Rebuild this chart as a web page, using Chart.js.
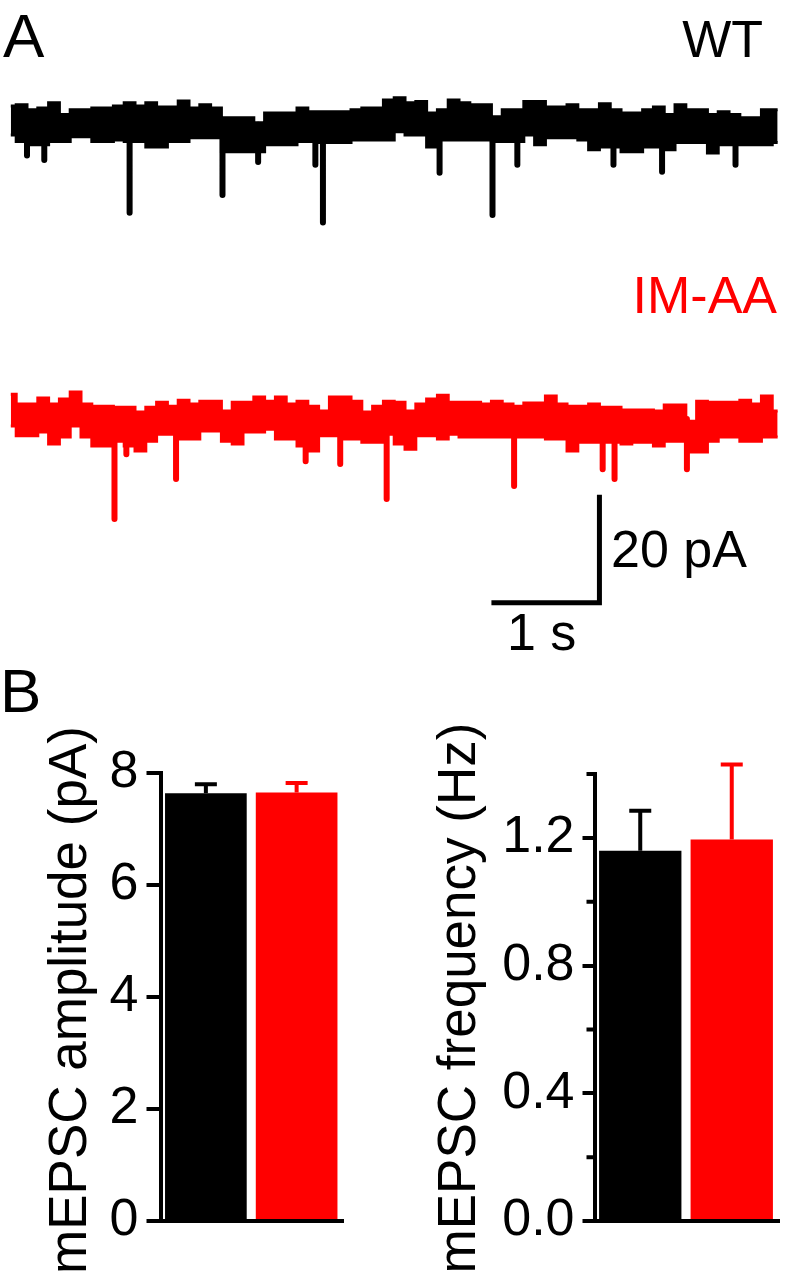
<!DOCTYPE html>
<html>
<head>
<meta charset="utf-8">
<script src="https://cdn.jsdelivr.net/npm/chart.js@4.4.0/dist/chart.umd.min.js"></script>
<style>
  html, body { margin: 0; padding: 0; background: #fff; }
  body { width: 792px; height: 1280px; position: relative; overflow: hidden; font-family: "Liberation Sans", Arial, sans-serif; }
  .lbl { position: absolute; line-height: 1; white-space: nowrap; color: #000; }
  .ytitle { transform: translate(-50%, -50%) rotate(-90deg); }
  canvas { position: absolute; }
</style>
</head>
<body>
<div class="lbl" style="left:3px; top:5px; font-size:62px;">A</div>
<div class="lbl" style="right:29px; top:13px; font-size:52px;">WT</div>
<div class="lbl" style="right:15px; top:269px; font-size:52px; color:#ff0000;">IM-AA</div>
<div class="lbl" style="left:611px; top:523px; font-size:52px;">20 pA</div>
<div class="lbl" style="left:507px; top:606px; font-size:52px;">1 s</div>
<div class="lbl" style="left:0px; top:660px; font-size:62px;">B</div>
<div class="lbl ytitle" style="left:67px; top:1000px; font-size:53px;">mEPSC amplitude (pA)</div>
<div class="lbl ytitle" style="left:456px; top:998px; font-size:53px;">mEPSC frequency (Hz)</div>

<canvas id="traceChart" width="792" height="594" style="left:0px; top:60px;"></canvas>
<canvas id="ampChart" width="360" height="560" style="left:0px; top:720px;"></canvas>
<canvas id="freqChart" width="412" height="560" style="left:380px; top:720px;"></canvas>

<script>
// panel A: sample times (s) and envelope of each trace (pA)
const traceTimes = [0.1, 0.2, 0.3, 0.4, 0.5, 0.6, 0.7, 0.8, 0.9, 1.0,
  1.1, 1.2, 1.3, 1.4, 1.5, 1.6, 1.7, 1.8, 1.9, 2.0,
  2.1, 2.2, 2.3, 2.4, 2.5, 2.6, 2.7, 2.8, 2.9, 3.0,
  3.1, 3.2, 3.3, 3.4, 3.5, 3.6, 3.7, 3.8, 3.9, 4.0,
  4.1, 4.2, 4.3, 4.4, 4.5, 4.6, 4.7, 4.8, 4.9, 5.0,
  5.1, 5.2, 5.3, 5.4, 5.5, 5.6, 5.7, 5.8, 5.9, 6.0,
  6.1, 6.2, 6.3, 6.4, 6.5, 6.6, 6.7, 6.8, 6.9, 7.0,
  7.1, 7.2];

const wtUpper = [3.5, 3.7, 2.8, 3.1, 4.1, 1.9, 2.8, 2.8, 3.1, 3.1,
  3.5, 4.1, 3.5, 4.1, 3.3, 3.3, 4.4, 3.1, 3.7, 3.1,
  1.3, 1.3, 1.3, 0.4, 2.2, 2.2, 2.2, 3.1, 2.4, 2.4,
  2.4, 2.4, 2.8, 3.1, 3.1, 4.6, 5.0, 4.1, 4.3, 2.2,
  2.8, 4.6, 4.1, 3.7, 3.7, 1.5, 2.8, 2.8, 4.3, 4.3,
  3.3, 3.3, 3.7, 2.8, 2.8, 3.9, 2.8, 2.2, 2.2, 2.8,
  3.3, 1.9, 3.7, 2.8, 2.8, 1.9, 2.4, 1.9, 1.3, 1.3,
  2.8, 2.8];
const wtLower = [-1.9, -3.1, -3.7, -3.7, -3.1, -3.1, -2.2, -2.2, -3.1, -3.1,
  -2.8, -3.1, -3.1, -4.1, -4.1, -3.1, -3.1, -2.4, -2.4, -2.4,
  -5.0, -5.0, -5.0, -5.0, -3.7, -3.7, -3.7, -3.1, -3.1, -3.3,
  -3.3, -3.3, -2.8, -2.8, -2.8, -2.8, -1.3, -1.9, -1.9, -4.1,
  -2.8, -2.8, -2.8, -2.8, -2.8, -3.1, -3.1, -3.1, -1.9, -3.7,
  -2.4, -2.4, -2.4, -2.8, -4.6, -4.1, -4.1, -5.0, -5.0, -4.1,
  -4.1, -4.6, -3.3, -3.3, -3.3, -5.2, -3.7, -3.7, -3.7, -3.7,
  -3.7, -3.3];
const wtEventTimes = [0.25, 0.41, 1.20, 2.06, 2.39, 2.92, 2.99, 4.07, 4.56, 4.79, 5.68, 6.13, 6.81];
const wtEventPeaks = [-5.7, -6.5, -16.3, -13.0, -6.9, -7.4, -18.1, -8.9, -16.7, -7.4, -7.4, -8.7, -7.4];

const imUpper = [4.6, 2.8, 2.8, 3.9, 2.8, 3.7, 5.0, 2.8, 2.4, 2.4,
  2.2, 2.2, 1.3, 2.2, 3.1, 2.4, 3.5, 2.8, 3.3, 3.3,
  1.5, 3.1, 3.1, 4.1, 3.3, 4.1, 2.8, 3.3, 2.4, 1.5,
  4.1, 4.1, 3.3, 1.3, 2.4, 3.3, 3.1, 1.5, 2.8, 3.7,
  4.4, 3.1, 3.1, 3.1, 2.8, 3.3, 2.8, 2.4, 3.0, 3.0,
  4.3, 2.8, 2.4, 2.4, 2.8, 2.2, 2.2, 1.7, 1.7, 1.7,
  1.5, 2.6, 2.6, -0.4, 3.3, 3.1, 3.1, 3.1, 3.5, 2.8,
  4.3, 1.5];
const imLower = [-1.3, -3.1, -3.1, -2.4, -4.6, -3.3, -1.3, -3.3, -5.0, -5.0,
  -4.1, -5.0, -5.9, -4.1, -2.8, -2.8, -3.7, -3.7, -2.2, -2.2,
  -4.1, -4.6, -2.4, -2.4, -1.9, -3.7, -3.7, -5.0, -5.9, -3.1,
  -3.1, -3.7, -3.7, -4.3, -4.3, -2.8, -4.6, -5.6, -3.1, -3.1,
  -3.7, -2.8, -3.3, -3.3, -3.3, -3.3, -3.3, -3.3, -3.3, -3.3,
  -3.7, -3.7, -5.9, -4.3, -4.3, -4.3, -4.3, -4.6, -4.3, -4.3,
  -5.0, -4.1, -4.1, -6.1, -6.1, -4.1, -3.3, -3.3, -4.1, -4.1,
  -3.3, -3.3];
const imEventTimes = [1.06, 1.17, 1.63, 2.83, 3.15, 3.58, 4.76, 5.58, 5.69, 6.36];
const imEventPeaks = [-18.5, -6.5, -11.1, -7.8, -8.3, -14.8, -12.4, -9.3, -11.1, -9.3];

// scale bar: 1 s and 20 pA
const scaleBarTimes = [4.55, 5.55, 5.55];
const scaleBarCurrents = [-34, -34, -14];

// panel B
const groups = ['WT', 'IM-AA'];
const ampMeans = [7.64, 7.65];
const ampErrors = [0.16, 0.17];
const ampTicks = [0, 2, 4, 6, 8];
const freqMeans = [1.16, 1.195];
const freqErrors = [0.125, 0.235];
const freqTicks = [0, 0.4, 0.8, 1.2];
const freqMinorTicks = [0.2, 0.6, 1.0, 1.4];

const groupColors = ['#000000', '#ff0000'];
const FONT = 'Liberation Sans';

function points(xs, ys) {
  return xs.map(function(x, i) { return {x: x, y: ys[i]}; });
}

// each event is a short vertical stroke from the baseline to its peak
function eventSegments(ts, peaks) {
  var out = [];
  ts.forEach(function(t, i) {
    out.push({x: t, y: 0}, {x: t, y: peaks[i]}, {x: t, y: null});
  });
  return out;
}

function band(upper, lower, color, axis) {
  return [
    {data: points(traceTimes, upper), yAxisID: axis, borderColor: color, borderWidth: 3, stepped: 'middle', fill: false},
    {data: points(traceTimes, lower), yAxisID: axis, borderColor: color, backgroundColor: color, borderWidth: 3, stepped: 'middle', fill: '-1'}
  ];
}

new Chart(document.getElementById('traceChart'), {
  type: 'line',
  data: {
    datasets: band(wtUpper, wtLower, '#000000', 'yWT').concat([
      {data: eventSegments(wtEventTimes, wtEventPeaks), yAxisID: 'yWT', borderColor: '#000000', borderWidth: 6, borderCapStyle: 'round', spanGaps: false}
    ], band(imUpper, imLower, '#ff0000', 'yIM'), [
      {data: eventSegments(imEventTimes, imEventPeaks), yAxisID: 'yIM', borderColor: '#ff0000', borderWidth: 6, borderCapStyle: 'round', spanGaps: false},
      {data: points(scaleBarTimes, scaleBarCurrents), yAxisID: 'yIM', borderColor: '#000000', borderWidth: 5, borderJoinStyle: 'miter'}
    ])
  },
  options: {
    responsive: false,
    animation: false,
    events: [],
    layout: {padding: 0},
    elements: {point: {radius: 0}, line: {tension: 0}},
    plugins: {legend: {display: false}, tooltip: {enabled: false}},
    scales: {
      x: {type: 'linear', min: 0, max: 7.333, display: false},
      yWT: {type: 'linear', min: -98, max: 12, display: false},
      yIM: {type: 'linear', min: -43.5, max: 66.5, display: false}
    }
  }
});

// upper error whisker with a cap
const errorBars = {
  id: 'errorBars',
  afterDatasetsDraw: function(chart) {
    var ctx = chart.ctx;
    var y = chart.scales.y;
    var ds = chart.data.datasets[0];
    chart.getDatasetMeta(0).data.forEach(function(bar, i) {
      var top = y.getPixelForValue(ds.data[i]);
      var cap = y.getPixelForValue(ds.data[i] + ds.errors[i]);
      ctx.save();
      ctx.strokeStyle = groupColors[i];
      ctx.lineWidth = 4;
      ctx.beginPath();
      ctx.moveTo(bar.x, top);
      ctx.lineTo(bar.x, cap);
      ctx.moveTo(bar.x - 11, cap);
      ctx.lineTo(bar.x + 11, cap);
      ctx.stroke();
      ctx.restore();
    });
  }
};

function minorTicks(values, len) {
  return {
    id: 'minorTicks',
    afterDraw: function(chart) {
      var ctx = chart.ctx;
      var y = chart.scales.y;
      var x0 = chart.chartArea.left;
      ctx.save();
      ctx.strokeStyle = '#000';
      ctx.lineWidth = 4;
      ctx.beginPath();
      values.forEach(function(v) {
        var py = y.getPixelForValue(v);
        ctx.moveTo(x0 - len, py);
        ctx.lineTo(x0, py);
      });
      ctx.stroke();
      ctx.restore();
    }
  };
}

function makeBarChart(id, means, errors, ticks, yMax, fmt, tickLen, axisWidth, pad, extra) {
  return new Chart(document.getElementById(id), {
    type: 'bar',
    data: {
      labels: groups,
      datasets: [{
        data: means,
        errors: errors,
        backgroundColor: groupColors,
        borderWidth: 0,
        barPercentage: 0.9,
        categoryPercentage: 1.0
      }]
    },
    options: {
      responsive: false,
      animation: false,
      events: [],
      layout: {padding: pad},
      plugins: {legend: {display: false}, tooltip: {enabled: false}},
      scales: {
        x: {
          grid: {display: false, drawTicks: false, lineWidth: 4},
          ticks: {display: false},
          border: {display: true, color: '#000', width: 4},
          afterFit: function(s) { s.height = 4; }
        },
        y: {
          min: 0,
          max: yMax,
          afterBuildTicks: function(s) { s.ticks = ticks.map(function(v) { return {value: v}; }); },
          ticks: {color: '#000', font: {family: FONT, size: 52}, padding: 8, callback: fmt},
          grid: {drawOnChartArea: false, drawTicks: true, tickLength: tickLen, lineWidth: 4, tickWidth: 4, tickColor: '#000'},
          border: {display: true, color: '#000', width: 4},
          afterFit: function(s) { s.width = axisWidth; }
        }
      }
    },
    plugins: [errorBars].concat(extra)
  });
}

makeBarChart('ampChart', ampMeans, ampErrors, ampTicks, 8,
  function(v) { return String(v); }, 14, 160.5,
  {left: 0, top: 53, right: 18, bottom: 55}, []);

makeBarChart('freqChart', freqMeans, freqErrors, freqTicks, 1.4,
  function(v) { return v.toFixed(1); }, 12, 214.5,
  {left: 0, top: 54, right: 14.5, bottom: 55}, [minorTicks(freqMinorTicks, 8)]);
</script>
</body>
</html>
